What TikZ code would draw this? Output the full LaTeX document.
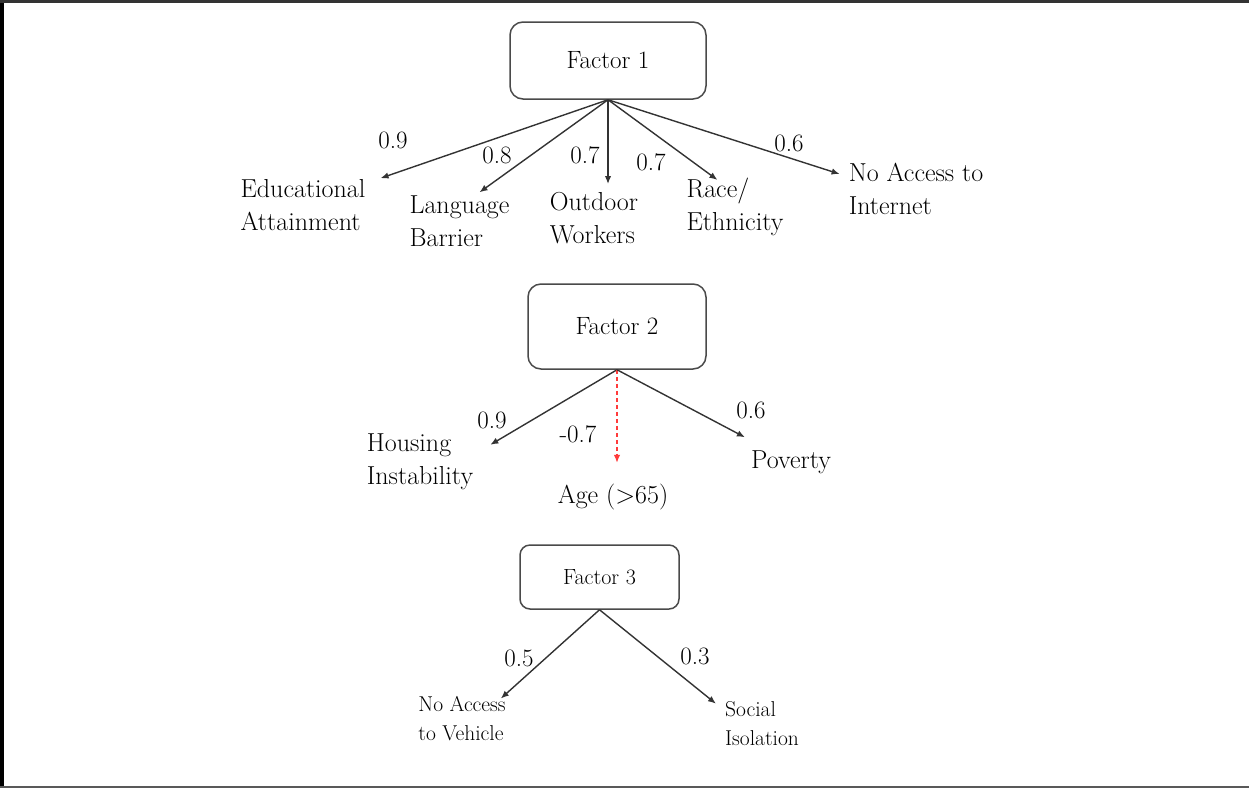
\documentclass[tikz,border=0pt]{standalone}
\usetikzlibrary{arrows.meta}
\definecolor{boxgrey}{HTML}{4A4A4A}
\definecolor{linkgrey}{HTML}{333333}
\definecolor{negred}{HTML}{FF3B3B}

\begin{document}
\begin{tikzpicture}[x=1pt, y=-1pt,
  font=\fontsize{26}{33}\selectfont,
  factorbox/.style={rounded corners=13pt, line width=1.5pt, draw=boxgrey,
    font=\fontsize{25}{28}\selectfont},
  itemtext/.style={align=left, inner sep=0pt},
  smalltext/.style={itemtext, font=\fontsize{21.5}{29}\selectfont},
  loading/.style={inner sep=0pt, font=\fontsize{25}{28}\selectfont},
  arrow/.style={-{Latex[length=8pt, width=6.5pt]}, line width=1.4pt, draw=linkgrey},
  negarrow/.style={arrow, draw=negred, dash pattern=on 4pt off 3pt}
]
\useasboundingbox (0,0) rectangle (1249,788);
% page frame (top, left, bottom)
\draw[line width=4pt, black] (2,0) -- (2,788);
\draw[line width=3pt, black!80] (0,1.5) -- (1249,1.5);
\draw[line width=2pt, black!65] (0,787) -- (1249,787);

% factor 1
\node[factorbox, minimum width=196pt, minimum height=77pt] (f1) at (608,60.5) {Factor 1};
\node[itemtext] (edu) at (303,205) {Educational\\Attainment};
\node[itemtext] (lang) at (459.5,221) {Language\\Barrier};
\node[itemtext] (outdoor) at (594,218) {Outdoor\\Workers};
\node[itemtext] (race) at (735,207) {Race/\\Ethnicity};
\node[itemtext] (internet) at (916,189) {No Access to\\Internet};

\node[loading] (w-edu) at (393,140) {0.9};
\node[loading] (w-lang) at (497,155) {0.8};
\node[loading] (w-outdoor) at (585,155) {0.7};
\node[loading] (w-race) at (651,162) {0.7};
\node[loading] (w-internet) at (789,143) {0.6};

\draw[arrow] (f1.south) -- ([shift={(15,-1)}]edu.north east);
\draw[arrow] (f1.south) -- ([shift={(20,-3)}]lang.north);
\draw[arrow, shorten >=8pt] (f1.south) -- (f1.south |- outdoor.north);
\draw[arrow] (f1.south) -- ([shift={(31,2)}]race.north west);
\draw[arrow] (f1.south) -- ([shift={(-9,11)}]internet.north west);

% factor 2
\node[factorbox, minimum width=178pt, minimum height=85pt] (f2) at (617,326.5) {Factor 2};
\node[itemtext] (housing) at (420,462) {Housing\\Instability};
\node[itemtext] (age) at (613,497) {Age (>65)};
\node[itemtext] (poverty) at (791,462) {Poverty};

\node[loading] (w-housing) at (492,420) {0.9};
\node[loading] (w-age) at (578,434) {-0.7};
\node[loading] (w-poverty) at (751,410) {0.6};

\draw[arrow] (f2.south) -- ([shift={(17,11)}]housing.north east);
\draw[negarrow, shorten >=21pt] (f2.south) -- (f2.south |- age.north);
\draw[arrow] (f2.south) -- ([shift={(-6,-13)}]poverty.north west);

% factor 3
\node[factorbox, rounded corners=10pt, minimum width=159pt, minimum height=64pt,
  font=\fontsize{22}{26}\selectfont] (f3) at (599.5,577) {Factor 3};
\node[smalltext] (vehicle) at (462,719) {No Access\\to Vehicle};
\node[smalltext] (social) at (762,724) {Social\\Isolation};

\node[loading] (w-vehicle) at (519,658) {0.5};
\node[loading] (w-social) at (695,656) {0.3};

\draw[arrow] (f3.south) -- ([shift={(-5,2)}]vehicle.north east);
\draw[arrow] (f3.south) -- ([shift={(-9,2)}]social.north west);
\end{tikzpicture}
\end{document}
